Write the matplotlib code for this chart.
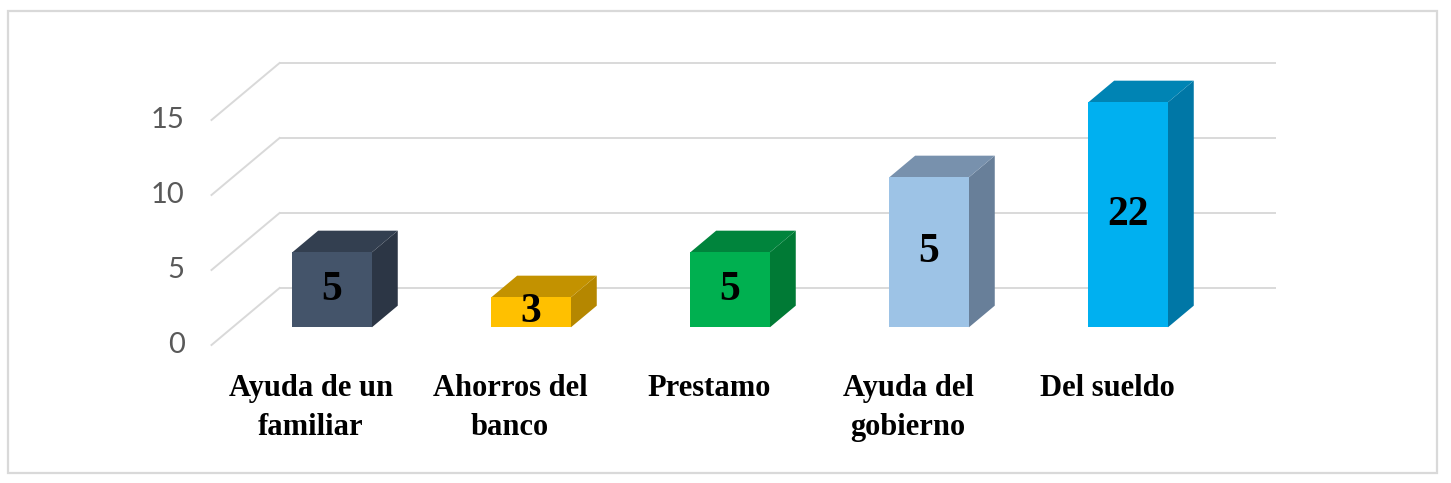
import matplotlib
matplotlib.use('Agg')
import matplotlib.pyplot as plt
from matplotlib.patches import Polygon, Rectangle

# chart values
categories = ['Ayuda de un\nfamiliar', 'Ahorros del\nbanco', 'Prestamo',
              'Ayuda del\ngobierno', 'Del sueldo']
heights = [5, 2, 5, 10, 15]
value_labels = ['5', '3', '5', '5', '22']
y_ticks = [0, 5, 10, 15]

front_colors = ['#44546a', '#ffc000', '#00b050', '#9dc3e6', '#00b0f0']
top_colors = ['#333f50', '#c39200', '#00843c', '#7891ad', '#0084b4']
side_colors = ['#2c3645', '#b58700', '#007a35', '#687f99', '#0077a6']

# fake 3D: depth shifts right and up
DX, DY = 0.342, 3.8      # full wall depth in data units
Z0, Z1 = 0.31, 0.69      # bar depth range
BAR_W = 0.40


def proj(x, y, z):
    return (x + z * DX, y + z * DY)


def main():
    fig = plt.figure(figsize=(14.51, 4.83), dpi=100)
    ax = fig.add_axes([0, 0, 1, 1])
    ax.set_xlim(-311 / 199, (1451 - 311) / 199)
    ax.set_ylim((345 - 483) / 15, 345 / 15)
    ax.axis('off')

    grid_c = '#d9d9d9'
    x_left, x_right = -0.5, len(categories) - 0.5
    for v in y_ticks:
        # back wall line
        p0 = proj(x_left, v, 1)
        p1 = proj(x_right, v, 1)
        ax.plot([p0[0], p1[0]], [p0[1], p1[1]], color=grid_c, lw=1.4, zorder=1)
        # left wall diagonal
        q0 = proj(x_left, v, 0)
        ax.plot([q0[0], p0[0]], [q0[1], p0[1]], color=grid_c, lw=1.4, zorder=1)
        ax.text(x_left - 0.135, v, str(v), ha='right', va='center',
                fontsize=21, color='#595959', family='Lato')

    for i, h in enumerate(heights):
        xl, xr = i - BAR_W / 2, i + BAR_W / 2
        front = [proj(xl, 0, Z0), proj(xr, 0, Z0), proj(xr, h, Z0), proj(xl, h, Z0)]
        top = [proj(xl, h, Z0), proj(xr, h, Z0), proj(xr, h, Z1), proj(xl, h, Z1)]
        side = [proj(xr, 0, Z0), proj(xr, 0, Z1), proj(xr, h, Z1), proj(xr, h, Z0)]
        ax.add_patch(Polygon(side, closed=True, facecolor=side_colors[i],
                             edgecolor='none', zorder=3))
        ax.add_patch(Polygon(top, closed=True, facecolor=top_colors[i],
                             edgecolor='none', zorder=3))
        ax.add_patch(Polygon(front, closed=True, facecolor=front_colors[i],
                             edgecolor='none', zorder=4))
        cx, cy = proj(i, h / 2, Z0)
        ax.text(cx, cy, value_labels[i], ha='center', va='center',
                fontsize=30, fontweight='bold', family='Liberation Serif',
                color='black', zorder=5)
        ax.text(i, -1.95, categories[i], ha='center', va='top',
                fontsize=22, fontweight='bold', family='Liberation Serif',
                color='black', linespacing=1.45)

    # outer chart border
    W, H = 1451, 483
    fig.patches.append(Rectangle((8 / W, 1 - 473 / H), (1437 - 8) / W, (473 - 11) / H,
                                 transform=fig.transFigure, fill=False,
                                 edgecolor='#d9d9d9', lw=1.6))

    fig.savefig('out.png', dpi=100, facecolor='white')


if __name__ == '__main__':
    main()
